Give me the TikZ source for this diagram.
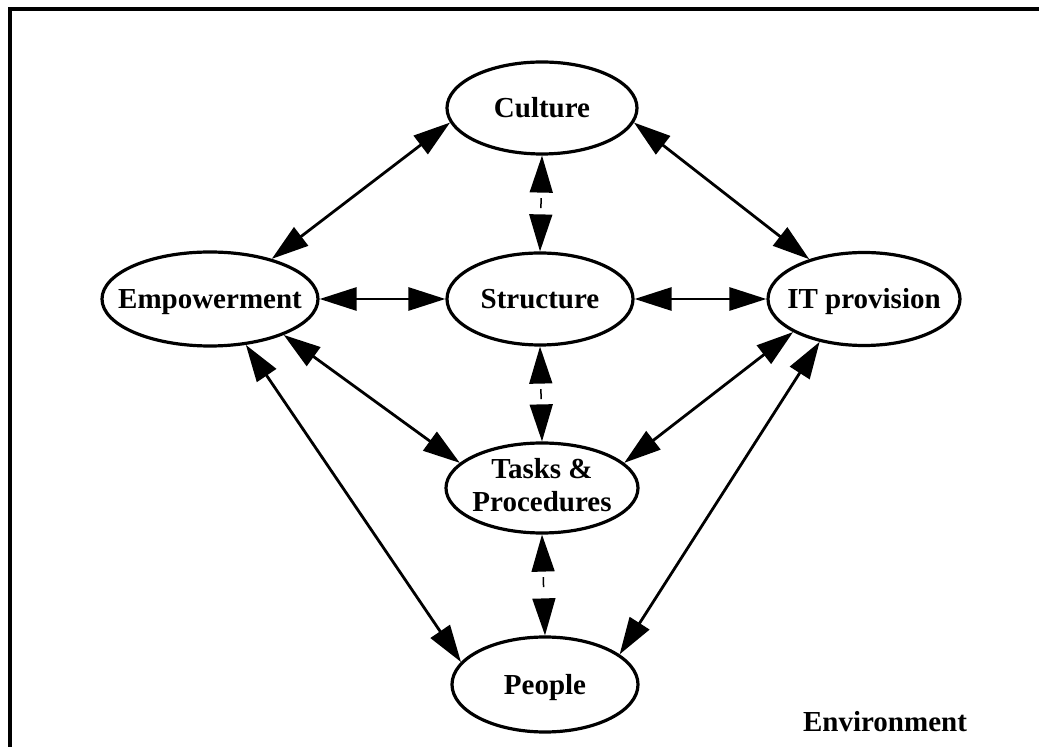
\documentclass[tikz,border=0pt]{standalone}
\usepackage{fontspec}
\setmainfont{Liberation Serif}
\usetikzlibrary{shapes.geometric,arrows.meta}
\begin{document}
\begin{tikzpicture}[x=1pt,y=1pt,
  ov/.style={ellipse, draw, line width=3.2pt, inner sep=0pt},
  lbl/.style={font=\fontsize{29}{33}\selectfont\bfseries, align=center, inner sep=0pt},
  conn/.style={line width=2.8pt, {Triangle[length=37pt,width=23pt]}-{Triangle[length=37pt,width=23pt]}},
  dconn/.style={conn, line width=1.5pt, dash pattern=on 10pt off 60pt, dash phase=64pt}]
\useasboundingbox (0,0) rectangle (1039,747);
\clip (0,0) rectangle (1039,747);
% frame
\coordinate (fb) at (10,-10);
\coordinate (fc) at (10,738);
\coordinate (fr) at (1050,738);
\draw[line width=4pt] (fb) -- (fc) -- (fr);
% ellipses
\node[ov, minimum width=190pt, minimum height=92pt] (cul) at (542,639) {};
\node[ov, minimum width=216pt, minimum height=94pt] (emp) at (210,448) {};
\node[ov, minimum width=186pt, minimum height=92pt] (str) at (540,448) {};
\node[ov, minimum width=192pt, minimum height=93pt] (it)  at (864,448) {};
\node[ov, minimum width=192pt, minimum height=90pt] (tas) at (542,259) {};
\node[ov, minimum width=186pt, minimum height=95pt] (peo) at (545,62.5) {};
% labels
\node[lbl, anchor=base] (cul-t) at ([yshift=-9.6pt]cul.center) {Culture};
\node[lbl, anchor=base] (emp-t) at ([yshift=-9.6pt]emp.center) {Empowerment};
\node[lbl, anchor=base] (str-t) at ([yshift=-9.6pt]str.center) {Structure};
\node[lbl, anchor=base] (it-t)  at ([yshift=-9.6pt]it.center) {IT provision};
\node[lbl] (tas-t) at ([yshift=3pt]tas.center) {Tasks \&\\Procedures};
\node[lbl, anchor=base] (peo-t) at ([yshift=-9.6pt]peo.center) {People};
\node[lbl, anchor=base] (env) at (885,15) {Environment};
% connectors
\draw[conn] (cul.189) -- (emp.33);
\draw[conn] (cul.351) -- (it.144);
\draw[conn] (emp.east) -- (str.west);
\draw[conn] (str.east) -- (it.west);
\draw[conn] (emp.334) -- (tas.163);
\draw[conn] (emp.308) -- (peo.165);
\draw[conn] (it.205) -- (tas.17);
\draw[conn] (it.224) -- (peo.22);
\draw[dconn] (cul.south) -- (str.north);
\draw[dconn] (str.south) -- (tas.north);
\draw[dconn] (tas.south) -- (peo.north);
\end{tikzpicture}
\end{document}
